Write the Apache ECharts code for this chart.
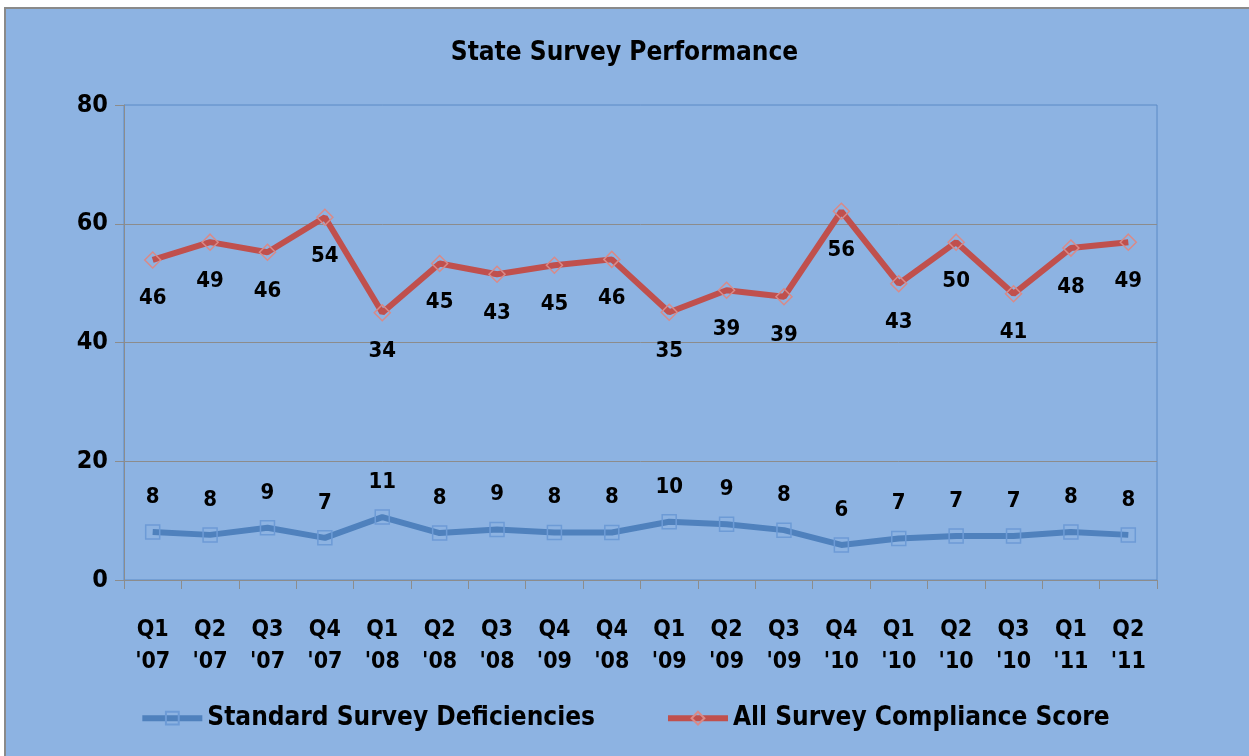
<!doctype html>
<html>
<head>
    <title>State Survey Performance</title>
    <script src="https://cdn.jsdelivr.net/npm/echarts@6/dist/echarts.min.js"></script>
</head>
<style>
    html, body { margin: 0; padding: 0; background: #fff; }
    #main { width: 1249px; height: 756px; }
</style>
<body>
<div id="main"></div>
<script>
  var quarters = ["Q1\n'07", "Q2\n'07", "Q3\n'07", "Q4\n'07", "Q1\n'08", "Q2\n'08", "Q3\n'08", "Q4\n'09", "Q4\n'08",
    "Q1\n'09", "Q2\n'09", "Q3\n'09", "Q4\n'10", "Q1\n'10", "Q2\n'10", "Q3\n'10", "Q1\n'11", "Q2\n'11"];
  // blue series (drawn values, labels show them rounded)
  var deficiencies = [8.1, 7.6, 8.8, 7.1, 10.6, 7.9, 8.5, 8.0, 8.0, 9.8, 9.4, 8.4, 5.9, 7.0, 7.4, 7.4, 8.1, 7.6];
  // red series, stacked on top of the blue one in the original
  var compliance = [45.8, 49.3, 46.4, 54.0, 34.4, 45.4, 43.0, 45.0, 46.0, 35.3, 39.4, 39.3, 56.2, 42.9, 49.5, 40.8, 47.8, 49.3];
  var yTicks = [0, 20, 40, 60, 80];

  var font = "'Liberation Sans Narrow', 'Arial Narrow', 'DejaVu Sans Condensed', sans-serif";
  var blue = '#4F81BD';
  var red = '#C0504D';

  var chart = echarts.init(document.getElementById('main'));
  var option = {
    backgroundColor: '#fff',
    animation: false,
    graphic: [{
      type: 'rect',
      z: -10,
      shape: { x: 5, y: 8, width: 1260, height: 770 },
      style: { fill: '#8DB3E2', stroke: '#8a8a8a', lineWidth: 2 }
    }],
    title: {
      text: 'State Survey Performance',
      left: 'center',
      top: 23,
      textStyle: { fontFamily: font, fontWeight: 'bold', fontSize: 26, color: '#000' }
    },
    legend: {
      bottom: 8,
      left: 'center',
      itemWidth: 60,
      itemHeight: 16,
      itemGap: 70,
      lineStyle: { width: 6 },
      textStyle: { fontFamily: font, fontWeight: 'bold', fontSize: 26, color: '#000' },
      data: ['Standard Survey Deficiencies', 'All Survey Compliance Score']
    },
    grid: {
      left: 124, right: 92, top: 105, bottom: 176,
      show: true,
      borderColor: '#5A8AC6',
      borderWidth: 1,
      backgroundColor: 'transparent'
    },
    xAxis: {
      type: 'category',
      data: quarters,
      boundaryGap: true,
      axisLine: { lineStyle: { color: '#8c8c8c', width: 1 } },
      axisTick: { show: true, inside: false, length: 9, lineStyle: { color: '#8c8c8c' } },
      axisLabel: {
        margin: 34,
        fontFamily: font, fontWeight: 'bold', fontSize: 23, color: '#000',
        lineHeight: 32, interval: 0
      }
    },
    yAxis: {
      type: 'value',
      min: yTicks[0],
      max: yTicks[yTicks.length - 1],
      interval: 20,
      axisLine: { show: true, lineStyle: { color: '#8c8c8c', width: 1 } },
      axisTick: { show: true, length: 9, lineStyle: { color: '#8c8c8c' } },
      splitLine: { show: true, showMinLine: false, showMaxLine: false, lineStyle: { color: '#8c8c8c', width: 1 } },
      axisLabel: {
        margin: 16,
        fontFamily: font, fontWeight: 'bold', fontSize: 25, color: '#000'
      }
    },
    series: [
      {
        name: 'Standard Survey Deficiencies',
        type: 'line',
        stack: 'total',
        data: deficiencies,
        symbol: 'rect',
        symbolSize: 14,
        itemStyle: { color: 'rgba(0,0,0,0)', borderColor: '#6d9bd6', borderWidth: 1.5 },
        lineStyle: { color: blue, width: 6 },
        label: {
          show: true,
          position: 'top',
          distance: 6,
          fontFamily: font, fontWeight: 'bold', fontSize: 22, color: '#000',
          formatter: function (p) { return Math.round(p.value); }
        }
      },
      {
        name: 'All Survey Compliance Score',
        type: 'line',
        stack: 'total',
        data: compliance,
        symbol: 'diamond',
        symbolSize: 16,
        itemStyle: { color: 'rgba(0,0,0,0)', borderColor: '#d98a88', borderWidth: 1.5 },
        lineStyle: { color: red, width: 6 },
        label: {
          show: true,
          position: 'bottom',
          distance: 9,
          fontFamily: font, fontWeight: 'bold', fontSize: 22, color: '#000',
          formatter: function (p) { return Math.round(p.value); }
        }
      }
    ]
  };

  chart.setOption(option);
</script>
</body>
</html>
